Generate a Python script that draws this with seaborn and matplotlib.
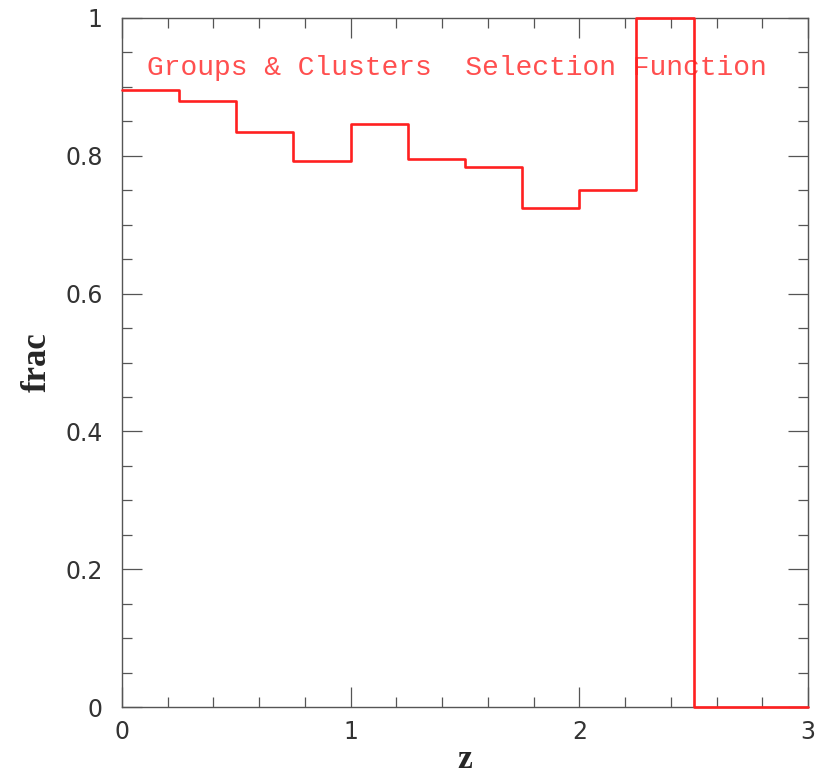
import numpy as np
import pandas as pd
import matplotlib
matplotlib.use("Agg")
import matplotlib.pyplot as plt
from matplotlib.ticker import MultipleLocator
import seaborn as sns

# Redshift bin edges (left edges) and the selected fraction in each bin
z_left = [0.0, 0.25, 0.5, 0.75, 1.0, 1.25, 1.5, 1.75, 2.0, 2.25, 2.5, 2.75]
frac = [0.896, 0.879, 0.835, 0.793, 0.846, 0.796, 0.784, 0.724, 0.751, 1.0, 0.0, 0.0]
z_max = 3.0

x_ticks = [0, 1, 2, 3]
x_ticklabels = ["0", "1", "2", "3"]
y_ticks = [0, 0.2, 0.4, 0.6, 0.8, 1.0]
y_ticklabels = ["0", "0.2", "0.4", "0.6", "0.8", "1"]

sns.set_style("ticks")
plt.rcParams["font.family"] = ["DejaVu Sans"]

df = pd.DataFrame({"z": z_left + [z_max], "frac": frac + [frac[-1]]})

fig = plt.figure(figsize=(8.31, 7.79), dpi=100)
ax = fig.add_axes([0.1468, 0.0924, 0.8255, 0.8845])

sns.lineplot(data=df, x="z", y="frac", drawstyle="steps-post",
             color="#ff2020", linewidth=1.9, ax=ax, clip_on=False, zorder=5)

ax.set_xlim(0, 3)
ax.set_ylim(0, 1)

axis_grey = "#555555"
for s in ax.spines.values():
    s.set_visible(True)
    s.set_color(axis_grey)
    s.set_linewidth(1.0)

ax.set_xticks(x_ticks)
ax.set_xticklabels(x_ticklabels)
ax.set_yticks(y_ticks)
ax.set_yticklabels(y_ticklabels)
ax.xaxis.set_minor_locator(MultipleLocator(0.2))
ax.yaxis.set_minor_locator(MultipleLocator(0.05))
ax.tick_params(which="both", direction="in", top=True, right=True,
               color=axis_grey, width=0.9, labelcolor="#333333",
               labelsize=17)
ax.tick_params(which="major", length=14.4, pad=9)
ax.tick_params(which="minor", length=7.2)
ax.tick_params(axis="y", which="major", pad=14)

ax.set_xlabel("z", fontsize=24, fontweight="bold", family="Liberation Serif",
              labelpad=0)
ax.set_ylabel("frac", fontsize=25, fontweight="bold", family="Liberation Serif",
              labelpad=8)

ax.text(0.037, 0.928, "Groups & Clusters  Selection Function",
        transform=ax.transAxes, color="#ff3030", fontsize=20.2,
        family="Liberation Mono", va="center", ha="left", alpha=0.85)

fig.savefig("out.png", dpi=100)
